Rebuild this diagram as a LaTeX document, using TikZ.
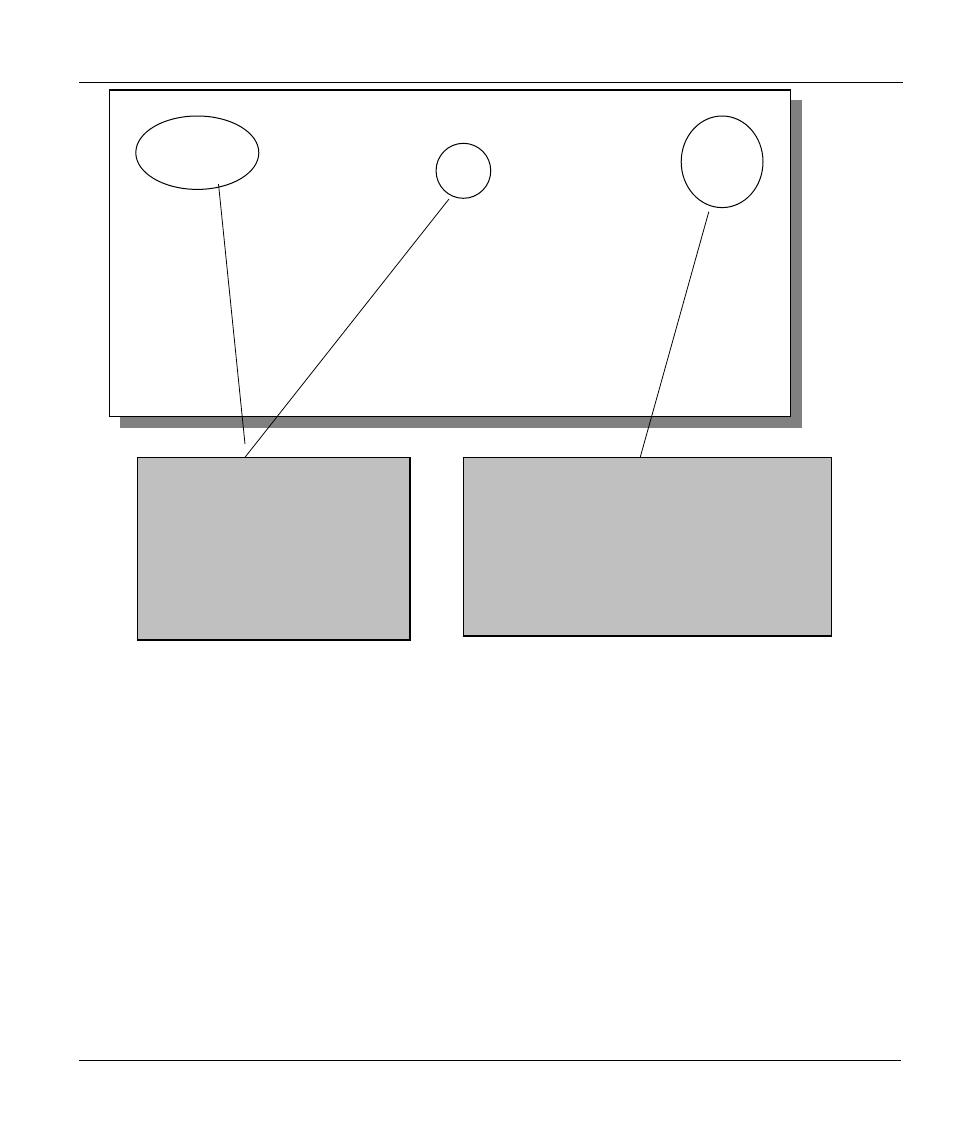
\documentclass[tikz,border=0pt]{standalone}
\usetikzlibrary{shapes.geometric}
\begin{document}
\begin{tikzpicture}[x=1pt,y=-1pt,
  oval/.style={draw=black,line width=1pt,ellipse,inner sep=0pt},
  graybox/.style={draw=black,line width=0.9pt,fill=boxgray,rectangle,inner sep=0pt,anchor=north west},
  leader/.style={draw=black,line width=0.8pt},
  rule/.style={draw=black,line width=0.8pt}]
\definecolor{boxgray}{HTML}{C0C0C0}
\definecolor{shadowgray}{HTML}{808080}
\useasboundingbox (0,0) rectangle (954,1132);
% rules
\coordinate (tl) at (79,82.5);
\coordinate (tr) at (903,82.5);
\coordinate (bl) at (79,1060);
\coordinate (br) at (901,1060);
\draw[rule] (tl) -- (tr);
\draw[rule] (bl) -- (br);
% frame with shadow
\fill[shadowgray] (120,100) rectangle (801.5,428);
\node[draw=black,line width=1.2pt,fill=white,rectangle,inner sep=0pt,anchor=north west,
      minimum width=681.5pt,minimum height=326.5pt] (frame) at (108.5,89.3) {};
% ovals
\node[oval,minimum width=123pt,minimum height=73.4pt] (e1) at (197.3,152.7) {};
\node[oval,minimum width=54.7pt,minimum height=55pt] (e2) at (463.4,170.8) {};
\node[oval,minimum width=81.8pt,minimum height=91.6pt] (e3) at (722.1,161.8) {};
% boxes
\node[graybox,minimum width=272.8pt,minimum height=182pt] (b1) at (136.5,457.3) {};
\node[graybox,minimum width=367.8pt,minimum height=177.7pt] (b2) at (463.4,457.3) {};
\draw[line width=1.8pt] (b1.north east) -- (b1.south east) -- (b1.south west);
\draw[line width=1.8pt] (b2.south west) -- (b2.south east);
% leader ends
\coordinate (l1a) at (218.5,184);
\coordinate (l1b) at (245,444);
\coordinate (l2a) at (449,199);
\coordinate (l2b) at (245,457.3);
\coordinate (l3a) at (708.8,211.7);
\coordinate (l3b) at (640.2,457.3);
\draw[leader] (l1a) -- (l1b);
\draw[leader] (l2a) -- (l2b);
\draw[leader] (l3a) -- (l3b);
\end{tikzpicture}
\end{document}
